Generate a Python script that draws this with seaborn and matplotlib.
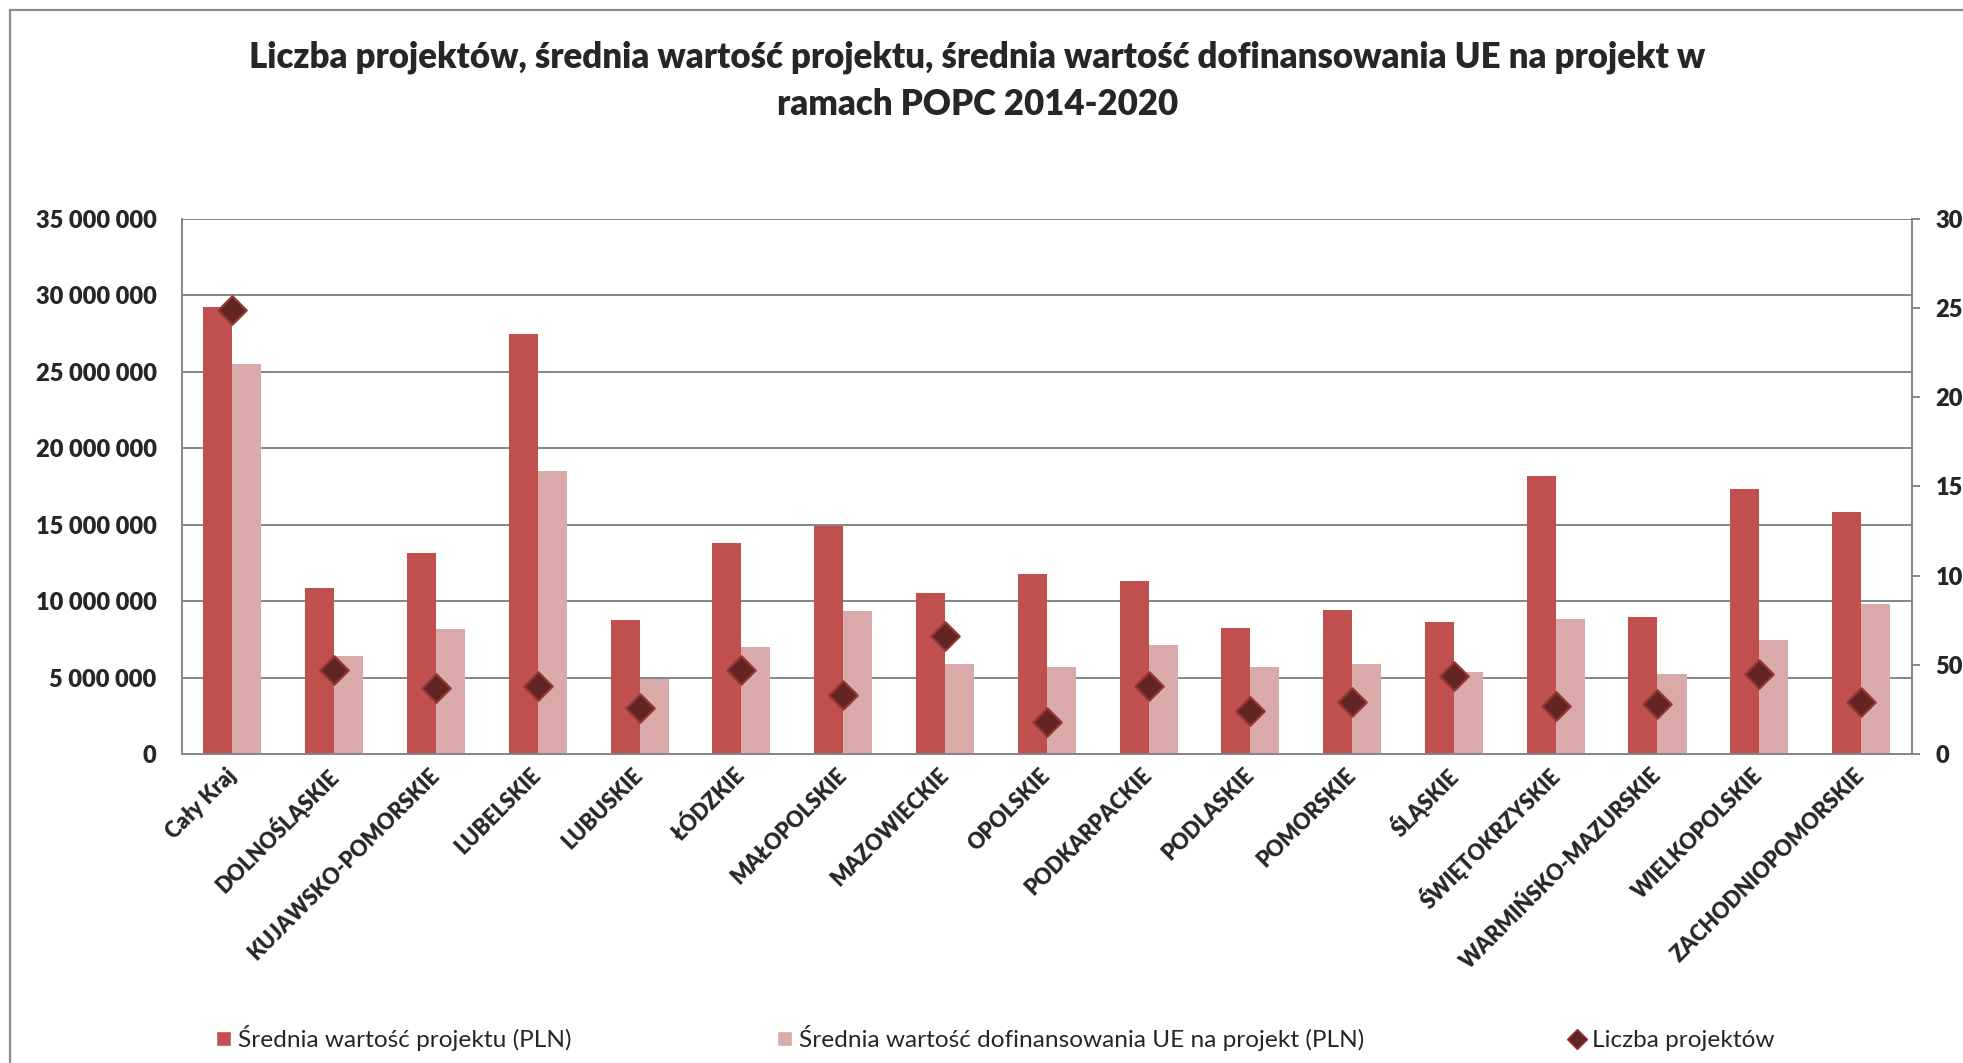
import matplotlib
matplotlib.use('Agg')
import matplotlib.pyplot as plt
import seaborn as sns
import pandas as pd
import numpy as np
from matplotlib.ticker import FuncFormatter, MultipleLocator
from matplotlib.patches import Patch, Rectangle
from matplotlib.lines import Line2D

regions = ['Cały Kraj', 'DOLNOŚLĄSKIE', 'KUJAWSKO-POMORSKIE', 'LUBELSKIE', 'LUBUSKIE',
           'ŁÓDZKIE', 'MAŁOPOLSKIE', 'MAZOWIECKIE', 'OPOLSKIE', 'PODKARPACKIE',
           'PODLASKIE', 'POMORSKIE', 'ŚLĄSKIE', 'ŚWIĘTOKRZYSKIE', 'WARMIŃSKO-MAZURSKIE',
           'WIELKOPOLSKIE', 'ZACHODNIOPOMORSKIE']
avg_value = [29_220_000, 10_840_000, 13_120_000, 27_500_000, 8_750_000,
             13_830_000, 14_940_000, 10_540_000, 11_770_000, 11_310_000,
             8_240_000, 9_450_000, 8_630_000, 18_200_000, 8_990_000,
             17_350_000, 15_830_000]
avg_eu = [25_520_000, 6_410_000, 8_170_000, 18_490_000, 4_910_000,
          6_990_000, 9_330_000, 5_870_000, 5_680_000, 7_150_000,
          5_660_000, 5_870_000, 5_370_000, 8_820_000, 5_250_000,
          7_440_000, 9_840_000]
n_projects = [249, 47, 37, 38, 26, 47, 33, 66, 18, 38, 24, 29, 44, 27, 28, 45, 29]

s_value = 'Średnia wartość projektu (PLN)'
s_eu = 'Średnia wartość dofinansowania UE na projekt (PLN)'
s_count = 'Liczba projektów'
title = ('Liczba projektów, średnia wartość projektu, średnia wartość dofinansowania UE na projekt w\n'
         'ramach POPC 2014-2020')

dark = '#C0504D'
light = '#DAAAAA'
dia_fill = '#632523'
dia_edge = '#943634'
grid_c = '#868686'

df = pd.DataFrame({'region': regions * 2,
                   'series': [s_value] * len(regions) + [s_eu] * len(regions),
                   'value': avg_value + avg_eu})

sns.set_style('white')
plt.rcParams['font.family'] = ['Lato', 'DejaVu Sans']

fig = plt.figure(figsize=(19.63, 10.63), dpi=100)
ax = fig.add_axes([0.0925, 0.2907, 0.8815, 0.5033])

sns.barplot(data=df, x='region', y='value', hue='series', palette=[dark, light],
            width=0.57, gap=0, dodge=True, ax=ax, legend=False, saturation=1,
            linewidth=0, errorbar=None)

ax.set_ylim(0, 35_000_000)
ax.set_xlim(-0.5, len(regions) - 0.5)
ax.yaxis.set_major_locator(MultipleLocator(5_000_000))
ax.yaxis.set_major_formatter(FuncFormatter(lambda v, p: f'{int(v):,}'.replace(',', ' ')))
ax.set_axisbelow(True)
ax.yaxis.grid(True, color=grid_c, lw=1.4)
ax.tick_params(axis='y', length=0, pad=18, labelsize=17)
ax.tick_params(axis='x', length=0, pad=13, labelsize=15.5)
for lab in ax.get_yticklabels():
    lab.set_fontweight('heavy')
ax.set_xticks(range(len(regions)))
ax.set_xticklabels(regions, rotation=45, ha='right', va='center',
                   rotation_mode='anchor', fontweight='heavy')
ax.set_xlabel('')
ax.set_ylabel('')
for side in ['left', 'bottom']:
    ax.spines[side].set_color(grid_c)
    ax.spines[side].set_linewidth(1.4)
ax.spines['top'].set_visible(False)
ax.spines['right'].set_visible(False)

ax2 = ax.twinx()
sns.scatterplot(x=np.arange(len(regions)), y=n_projects, ax=ax2, marker='D', s=210,
                color=dia_fill, edgecolor=dia_edge, linewidth=1.6, zorder=5, legend=False)
ax2.set_ylim(0, 300)
ax2.set_xlim(-0.5, len(regions) - 0.5)
ax2.yaxis.set_major_locator(MultipleLocator(50))
ax2.tick_params(axis='y', length=6, width=1.4, color=grid_c, pad=11, labelsize=17)
for lab in ax2.get_yticklabels():
    lab.set_fontweight('heavy')
for side in ['left', 'top', 'bottom']:
    ax2.spines[side].set_visible(False)
ax2.spines['right'].set_color(grid_c)
ax2.spines['right'].set_linewidth(1.4)

fig.text(0.498, 0.924, title, ha='center', va='center', fontsize=25,
         fontweight='heavy', linespacing=1.52)

handles = [Patch(facecolor=dark, label=s_value),
           Patch(facecolor=light, label=s_eu),
           Line2D([], [], marker='D', ls='none', markersize=10, color=dia_fill,
                  markeredgecolor=dia_edge, label=s_count)]
fig.legend(handles=handles, loc='center', bbox_to_anchor=(0.507, 0.0235), ncol=3,
           frameon=False, fontsize=17.6, handlelength=0.6, handleheight=0.6,
           handletextpad=0.3, columnspacing=8.4)

fig.add_artist(Rectangle((10 / 1963, -0.2), 2, 1.2 - 10 / 1063, transform=fig.transFigure,
                         fill=False, edgecolor='#8C8C8C', lw=1.6))

fig.savefig('out.png', dpi=100)
